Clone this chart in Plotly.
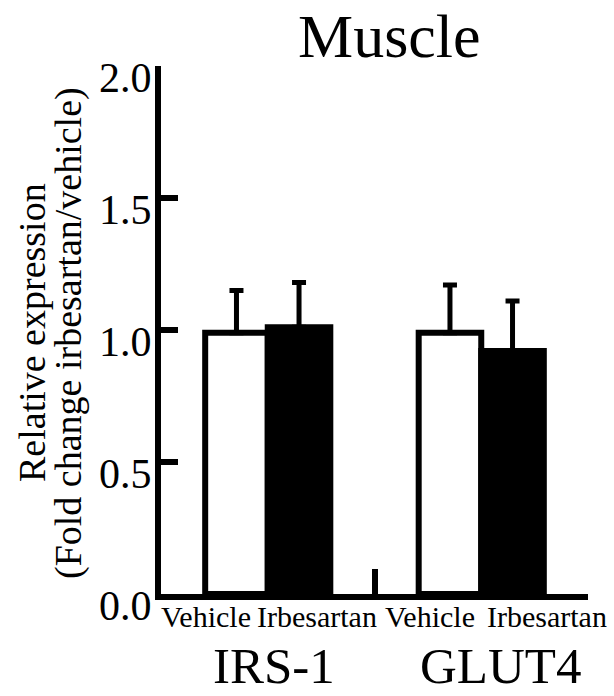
import plotly.graph_objects as go

# ---- data ----
genes = ["IRS-1", "GLUT4"]
treatments = ["Vehicle", "Irbesartan"]
vehicle_mean = [0.99, 0.99]
vehicle_err = [0.16, 0.18]
irbesartan_mean = [1.01, 0.92]
irbesartan_err = [0.17, 0.19]
y_ticks = [0.0, 0.5, 1.0, 1.5, 2.0]
group_pos = [0.5, 1.5]
group_edges = [1, 2]
treatment_label_pos = [0.21, 0.73, 1.26, 1.81]
gene_label_pos = [0.53, 1.59]
title_text = "Muscle"
ytitle_lines = ["Relative expression", "(Fold change irbesartan/vehicle)"]

FONT = "Liberation Serif"

fig = go.Figure()
fig.add_trace(go.Bar(
    x=group_pos, y=vehicle_mean, name="Vehicle",
    marker=dict(color="white", line=dict(color="black", width=6)),
    error_y=dict(type="data", symmetric=False, array=vehicle_err,
                 arrayminus=[0] * len(vehicle_err),
                 color="black", thickness=5, width=7),
))
fig.add_trace(go.Bar(
    x=group_pos, y=irbesartan_mean, name="Irbesartan",
    marker=dict(color="black", line=dict(color="black", width=6)),
    error_y=dict(type="data", symmetric=False, array=irbesartan_err,
                 arrayminus=[0] * len(irbesartan_err),
                 color="black", thickness=5, width=7),
))

annotations = []
# y-axis title lines
for txt, px in zip(ytitle_lines, [32, 68]):
    annotations.append(dict(
        text=txt, textangle=-90, xref="paper", yref="paper",
        x=0, y=0.5, xanchor="center", yanchor="middle",
        xshift=px - 161, yshift=-3, showarrow=False,
        font=dict(family=FONT, size=38, color="black")))
# treatment labels under each bar pair
tlabels = treatments * len(genes)
for t, tx in zip(tlabels, treatment_label_pos):
    annotations.append(dict(
        text=t, xref="x", yref="paper", x=tx, y=0,
        xanchor="center", yanchor="top", yshift=-4, showarrow=False,
        font=dict(family=FONT, size=30, color="black")))
# gene labels
for g, gx in zip(genes, gene_label_pos):
    annotations.append(dict(
        text=g, xref="x", yref="paper", x=gx, y=0,
        xanchor="center", yanchor="bottom", yshift=-102, showarrow=False,
        font=dict(family=FONT, size=51, color="black")))
# title
annotations.append(dict(
    text=title_text, xref="paper", yref="paper", x=0.536, y=1,
    xanchor="center", yanchor="top", yshift=66, showarrow=False,
    font=dict(family=FONT, size=62, color="black")))

fig.update_layout(
    width=614, height=696,
    margin=dict(l=161, r=26, t=66, b=102),
    paper_bgcolor="white", plot_bgcolor="white",
    barmode="group", bargap=0.414, bargroupgap=0,
    showlegend=False,
    font=dict(family=FONT, color="black"),
    xaxis=dict(
        range=[0, 2], showgrid=False, zeroline=False,
        showline=True, linecolor="black", linewidth=6,
        tickmode="array", tickvals=group_edges, showticklabels=False,
        ticks="inside", ticklen=25, tickwidth=6, tickcolor="black",
    ),
    yaxis=dict(
        range=[0, 2], showgrid=False, zeroline=False,
        showline=True, linecolor="black", linewidth=6,
        tickmode="array", tickvals=y_ticks,
        ticktext=[f"{v:.1f}" for v in y_ticks],
        ticks="inside", ticklen=17, tickwidth=6, tickcolor="black",
        tickfont=dict(family=FONT, size=42, color="black"),
        ticklabelshift=11, ticklabelstandoff=-5,
    ),
    annotations=annotations,
)

fig.write_html("out.html")
